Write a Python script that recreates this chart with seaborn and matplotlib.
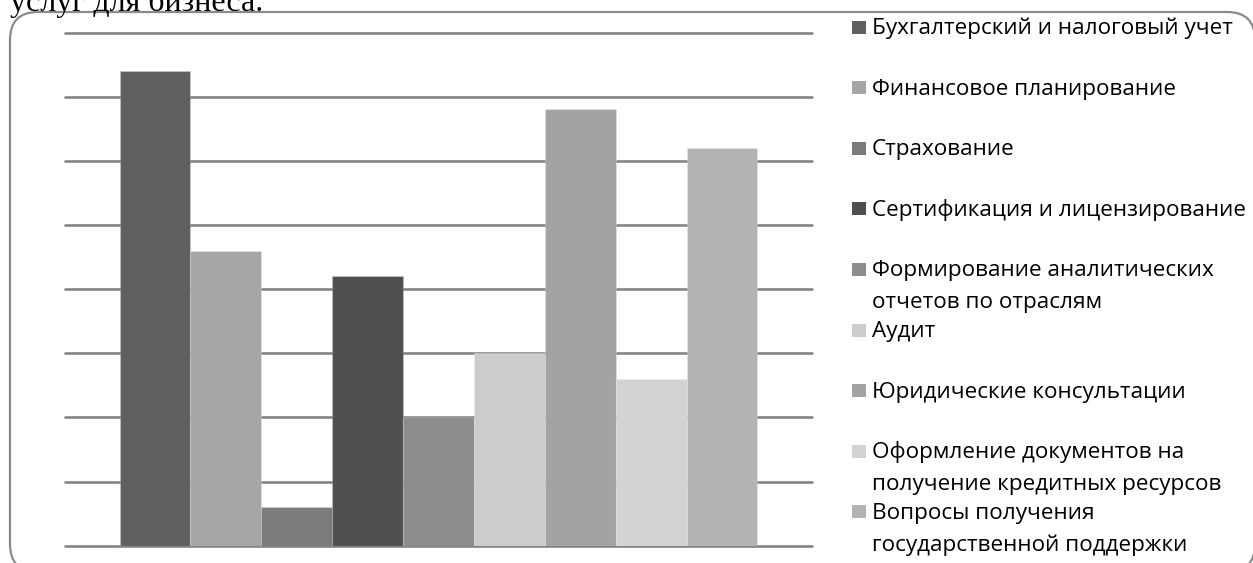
import matplotlib
matplotlib.use("Agg")
import matplotlib.pyplot as plt
from matplotlib.patches import FancyBboxPatch, Rectangle
import seaborn as sns
import pandas as pd

# Services and their share (each grid step = 5)
services = [
    "Бухгалтерский и налоговый учет",
    "Финансовое планирование",
    "Страхование",
    "Сертификация и лицензирование",
    "Формирование аналитических\nотчетов по отраслям",
    "Аудит",
    "Юридические консультации",
    "Оформление документов на\nполучение кредитных ресурсов",
    "Вопросы получения\nгосударственной поддержки",
]
values = [37, 23, 3, 21, 10, 15, 34, 13, 31]
colors = ["#606060", "#a6a6a6", "#7b7b7b", "#4f4f4f", "#8c8c8c",
          "#cccccc", "#a3a3a3", "#d3d3d3", "#b3b3b3"]
y_ticks = [0, 5, 10, 15, 20, 25, 30, 35, 40]

W, H = 1253, 563
sns.set_theme(style="white")
plt.rcParams["font.family"] = ["Open Sans", "DejaVu Sans"]

fig = plt.figure(figsize=(W / 100, H / 100), dpi=100)
fig.patch.set_facecolor("white")

# Background layer in pixel coordinates: frame, heading, legend
bg = fig.add_axes([0, 0, 1, 1], zorder=0)
bg.set_xlim(0, W)
bg.set_ylim(H, 0)
bg.axis("off")

frame = FancyBboxPatch((10, 12), 1245, 560,
                       boxstyle="round,pad=0,rounding_size=28",
                       facecolor="white", edgecolor="#8a8a8a", linewidth=1.6)
bg.add_patch(frame)

bg.text(10, 11, "услуг для бизнеса.", family="Liberation Serif",
        fontsize=23, color="black", ha="left", va="baseline")

# Legend entries, evenly spaced
for i, (lab, col) in enumerate(zip(services, colors)):
    yc = 27 + 60.6 * i
    bg.add_patch(Rectangle((852, yc - 6.5), 14, 13, facecolor=col,
                           edgecolor="none"))
    for k, line in enumerate(lab.split("\n")):
        bg.text(872, yc + 7 + 32 * k, line, fontsize=16.2,
                color="black", ha="left", va="baseline")

# Chart area
left, right, top, bottom = 65, 812, 32.5, 545.7
ax = fig.add_axes([left / W, (H - bottom) / H, (right - left) / W,
                   (bottom - top) / H], zorder=1)
ax.patch.set_alpha(0)

df = pd.DataFrame({"group": [""] * len(services),
                   "service": services, "value": values})
sns.barplot(data=df, x="group", y="value", hue="service",
            hue_order=services, palette=colors, width=0.854,
            errorbar=None, legend=False, ax=ax,
            edgecolor=(1, 1, 1, 0.2), linewidth=0.8, zorder=3)

ax.set_xlim(-0.5, 0.5)
ax.set_ylim(0, 40)
ax.set_yticks(y_ticks)
ax.yaxis.grid(True, color="#858585", linewidth=1.9, zorder=0)
for gl in ax.get_ygridlines():
    gl.set_clip_on(False)
ax.set_axisbelow(True)
ax.tick_params(left=False, bottom=False, labelleft=False, labelbottom=False)
ax.set_xlabel("")
ax.set_ylabel("")
for s in ax.spines.values():
    s.set_visible(False)

fig.savefig("out.png", dpi=100)
